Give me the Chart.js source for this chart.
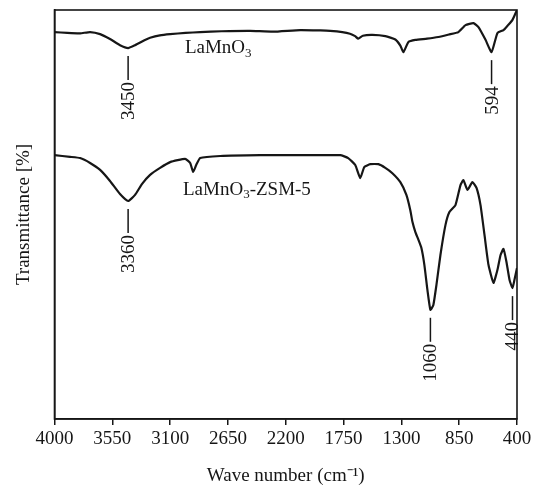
<!DOCTYPE html>
<html>
<head>
<meta charset="utf-8">
<script src="https://cdn.jsdelivr.net/npm/chart.js@4/dist/chart.umd.min.js"></script>
<style>
  html, body { margin: 0; padding: 0; background: #fff; }
  #wrap { width: 535px; height: 487px; }
</style>
</head>
<body>
<div id="wrap"><canvas id="ftir-chart" width="535" height="487"></canvas></div>
<script>
const waveTicks = [4000, 3550, 3100, 2650, 2200, 1750, 1300, 850, 400]

// LaMnO3 spectrum (upper trace)
const lamnoWave = [4000, 3900, 3800, 3723, 3645, 3568, 3490, 3427, 3373, 3300, 3256, 3180, 3100, 2980, 2866, 2700, 2477, 2300, 2087, 1930, 1854, 1760, 1700, 1660, 1636, 1600, 1526, 1425, 1347, 1308, 1284, 1245, 1191, 1100, 1012, 930, 856, 801, 739, 700, 645, 598, 552, 505, 470, 435, 400]
const lamnoT = [94.6, 94.4, 94.3, 94.6, 94.1, 92.9, 91.4, 90.7, 91.4, 92.6, 93.2, 93.8, 94.1, 94.4, 94.6, 94.8, 94.9, 94.7, 95.1, 95.0, 94.9, 94.6, 94.2, 93.6, 93.0, 93.7, 93.9, 93.6, 92.8, 91.3, 89.7, 92.2, 92.7, 93.0, 93.4, 94.0, 94.6, 96.3, 96.8, 95.8, 92.7, 89.7, 94.4, 95.1, 96.3, 97.6, 100]

// LaMnO3-ZSM-5 spectrum (lower trace)
const zsmWave = [4000, 3879, 3801, 3723, 3645, 3568, 3490, 3427, 3373, 3318, 3256, 3178, 3100, 2983, 2944, 2921, 2897, 2866, 2710, 2399, 2087, 1776, 1714, 1659, 1620, 1589, 1542, 1479, 1425, 1370, 1308, 1261, 1230, 1214, 1191, 1167, 1144, 1121, 1097, 1074, 1051, 1027, 996, 957, 926, 879, 840, 817, 786, 747, 715, 684, 653, 622, 583, 552, 528, 505, 482, 458, 435, 420, 400]
const zsmT = [64.5, 64.1, 63.8, 62.6, 60.9, 58.2, 55.0, 53.3, 54.8, 57.5, 59.7, 61.4, 62.8, 63.6, 62.6, 60.4, 62.1, 63.8, 64.3, 64.5, 64.5, 64.5, 63.8, 62.1, 58.9, 61.6, 62.3, 62.3, 61.4, 60.1, 57.9, 54.8, 51.0, 48.2, 45.7, 43.8, 41.8, 37.7, 31.5, 26.7, 27.9, 32.8, 40.1, 47.4, 50.6, 52.3, 57.2, 58.4, 56.0, 57.9, 56.5, 52.3, 45.0, 37.7, 33.3, 36.5, 40.1, 41.6, 38.4, 34.0, 32.0, 34.0, 36.9]

// peak marks: label, band position, which trace
const peakLabels = ['3450', '594', '3360', '1060', '440']
const peakWave = [3427, 598, 3427, 1074, 435]
const peakSeries = [0, 0, 1, 1, 1]

const seriesNames = ['LaMnO₃', 'LaMnO₃-ZSM-5']

const FONT = "'Liberation Serif', 'Times New Roman', serif"
const INK = '#161616'

const series = [
  { wave: lamnoWave, t: lamnoT },
  { wave: zsmWave, t: zsmT },
]

function toPoints(wave, t) {
  return wave.map((w, i) => ({ x: w, y: t[i] }))
}

/* ---- frame round the plot area ---- */
const framePlugin = {
  id: 'frame',
  afterDraw(chart) {
    const { ctx, chartArea: a } = chart
    ctx.save()
    ctx.strokeStyle = INK
    ctx.lineWidth = 1.6
    ctx.strokeRect(a.left, a.top, a.right - a.left, a.bottom - a.top)
    ctx.restore()
  }
}

/* ---- peak marks and trace names ---- */
const labelPlugin = {
  id: 'peakMarks',
  afterDatasetsDraw(chart) {
    const { ctx, scales: { x, y } } = chart
    ctx.save()
    ctx.fillStyle = INK
    ctx.strokeStyle = INK
    ctx.lineWidth = 1.5
    ctx.font = `19px ${FONT}`

    peakLabels.forEach((label, i) => {
      const s = series[peakSeries[i]]
      let k = 0
      s.wave.forEach((w, j) => {
        if (Math.abs(w - peakWave[i]) < Math.abs(s.wave[k] - peakWave[i])) k = j
      })
      const px = x.getPixelForValue(peakWave[i])
      const y0 = y.getPixelForValue(s.t[k]) + 8
      const y1 = y0 + 24
      ctx.beginPath()
      ctx.moveTo(px, y0)
      ctx.lineTo(px, y1)
      ctx.stroke()

      ctx.save()
      ctx.translate(px, y1 + 2)
      ctx.rotate(-Math.PI / 2)
      ctx.textAlign = 'right'
      ctx.textBaseline = 'middle'
      ctx.fillText(label, 0, 1)
      ctx.restore()
    })

    // trace names, subscript 3 drawn small
    const names = [[2985, 90.6], [3000, 56.0]]
    seriesNames.forEach((name, i) => {
      const [head, tail] = name.split('₃')
      let cx = x.getPixelForValue(names[i][0])
      const cy = y.getPixelForValue(names[i][1])
      ctx.textAlign = 'left'
      ctx.textBaseline = 'middle'
      ctx.font = `19px ${FONT}`
      ctx.fillText(head, cx, cy)
      cx += ctx.measureText(head).width
      ctx.font = `13px ${FONT}`
      ctx.fillText('3', cx, cy + 5)
      cx += ctx.measureText('3').width
      ctx.font = `19px ${FONT}`
      if (tail) ctx.fillText(tail, cx, cy)
    })
    ctx.restore()
  }
}

new Chart(document.getElementById('ftir-chart'), {
  type: 'line',
  data: {
    datasets: series.map((s, i) => ({
      label: seriesNames[i],
      data: toPoints(s.wave, s.t),
      borderColor: INK,
      borderWidth: 2.2,
      pointRadius: 0,
      tension: 0.15,
      fill: false,
    }))
  },
  options: {
    responsive: false,
    animation: false,
    layout: { padding: { top: 10, right: 18, left: 0, bottom: 0 } },
    plugins: {
      legend: { display: false },
      tooltip: { enabled: false },
    },
    scales: {
      x: {
        type: 'linear',
        reverse: true,
        min: 400,
        max: 4000,
        afterBuildTicks: (s) => { s.ticks = waveTicks.map(v => ({ value: v })) },
        afterFit: (s) => { s.height = 68 },
        grid: { drawOnChartArea: false, drawTicks: true, tickLength: 6, color: INK, lineWidth: 1.5 },
        border: { display: true, color: INK, width: 1.6 },
        ticks: {
          color: INK,
          padding: 3,
          maxRotation: 0,
          autoSkip: false,
          font: { family: FONT, size: 19 },
          callback: (v) => String(v),
        },
        title: {
          display: true,
          text: 'Wave number (cm⁻¹)',
          color: INK,
          font: { family: FONT, size: 19 },
          padding: { top: 0, bottom: 0 },
        }
      },
      y: {
        min: 0,
        max: 100,
        afterFit: (s) => { s.width = 54.5 },
        grid: { display: false },
        border: { display: true, color: INK, width: 1.6 },
        ticks: { display: false },
        title: {
          display: true,
          text: 'Transmittance [%]',
          color: INK,
          font: { family: FONT, size: 19 },
          padding: { top: 13, bottom: 0 },
        }
      }
    }
  },
  plugins: [framePlugin, labelPlugin]
})
</script>
</body>
</html>
